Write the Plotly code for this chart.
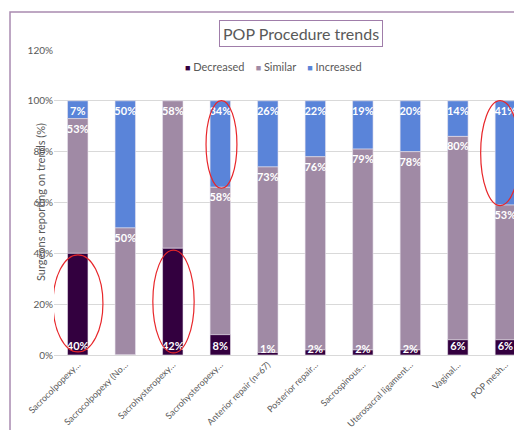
import plotly.graph_objects as go

categories = ["Sacrocolpopexy…", "Sacrocolpopexy (No…", "Sacrohysteropexy…", "Sacrohysteropexy…",
              "Anterior repair (n=67)", "Posterior repair…", "Sacrospinous…",
              "Uterosacral ligament…", "Vaginal…", "POP mesh…"]
decreased = [40, 0, 42, 8, 1, 2, 2, 2, 6, 6]
similar = [53, 50, 58, 58, 73, 76, 79, 78, 80, 53]
increased = [7, 50, 0, 34, 26, 22, 19, 20, 14, 41]
y_ticks = [0, 0.2, 0.4, 0.6, 0.8, 1.0, 1.2]
y_tick_labels = ["0%", "20%", "40%", "60%", "80%", "100%", "120%"]

FONT = "Lato, Open Sans, sans-serif"
x = list(range(len(categories)))

def labels(vals):
    return [f"{v}%" if v > 0 else "" for v in vals]

base_dec = [0] * len(decreased)
base_sim = [d / 100 for d in decreased]
base_inc = [(d + s) / 100 for d, s in zip(decreased, similar)]

fig = go.Figure()
# drawn top segment first so the bottom segment's labels sit on top
series = [
    ("Increased", increased, base_inc, "#5A84D9", "end"),
    ("Similar", similar, base_sim, "#A08AA5", "end"),
    ("Decreased", decreased, base_dec, "#33003F", "start"),
]
for name, vals, base, col, anchor in series:
    fig.add_trace(go.Bar(
        x=x, y=[v / 100 for v in vals], base=base, name=name, showlegend=False,
        marker=dict(color=col, line=dict(color="#E8E2EC", width=0.6)),
        text=labels(vals), textposition="inside", insidetextanchor=anchor,
        textangle=0,
        textfont=dict(color="white", size=11, family=FONT, weight="bold"),
    ))

# compact legend (Excel style small squares)
legend_parts = []
for name, vals, base, col, anchor in reversed(series):
    legend_parts.append(f'<span style="color:{col};font-size:9px">■</span> {name}')
fig.add_annotation(text="    ".join(legend_parts), xref="paper", yref="paper",
                   x=(273.5 - 54) / 468, y=(355 - 67) / 305, xanchor="center", yanchor="middle",
                   showarrow=False, font=dict(size=11, color="#595959", family=FONT))

# highlight ellipses
ellipses = [(-0.52, 0.53, 0.012, 0.394), (1.58, 2.45, 0.008, 0.413),
            (2.70, 3.35, 0.656, 1.001), (8.48, 9.30, 0.588, 1.001)]
for x0, x1, y0, y1 in ellipses:
    fig.add_shape(type="circle", xref="x", yref="y", x0=x0, x1=x1, y0=y0, y1=y1,
                  line=dict(color="#E8262A", width=1.2), fillcolor="rgba(0,0,0,0)")

# outer chart border
fig.add_shape(type="rect", xref="paper", yref="paper", x0=-0.094, x1=1.2, y0=-0.5, y1=1.1246,
              line=dict(color="#A98BB0", width=1.5), fillcolor="rgba(0,0,0,0)", layer="below")

fig.add_annotation(text="POP Procedure trends", xref="paper", yref="paper",
                   x=0.528, y=(355 - 34) / 305, xanchor="center", yanchor="middle",
                   showarrow=False, font=dict(size=16, color="#595959", family=FONT),
                   bordercolor="#A07DAA", borderwidth=1, borderpad=3)
fig.add_annotation(text="Surgeons reporting on trends (%)", xref="paper", yref="paper",
                   x=0, y=0.5, xshift=-22, textangle=-90, showarrow=False,
                   font=dict(size=11, color="#595959", family=FONT))

fig.update_layout(
    width=514, height=422, barmode="overlay", bargap=0.57,
    margin=dict(l=46, r=0, t=42, b=75),
    paper_bgcolor="white", plot_bgcolor="white",
    font=dict(family=FONT, color="#595959"),
    showlegend=False,
    uniformtext=dict(minsize=11, mode="show"),
)
fig.update_xaxes(tickmode="array", tickvals=x, ticktext=categories, tickangle=-45,
                 range=[-0.5, 9.35], showgrid=False, showline=True, linecolor="#D9D9D9",
                 ticks="", automargin=False, tickfont=dict(size=9, color="#595959", family=FONT))
fig.update_yaxes(range=[0, 1.2], tickmode="array", tickvals=y_ticks, ticktext=y_tick_labels,
                 showgrid=True, gridcolor="#D9D9D9", zeroline=False, ticks="", automargin=False,
                 tickfont=dict(size=10, color="#595959", family=FONT))

fig.write_html("out.html")
